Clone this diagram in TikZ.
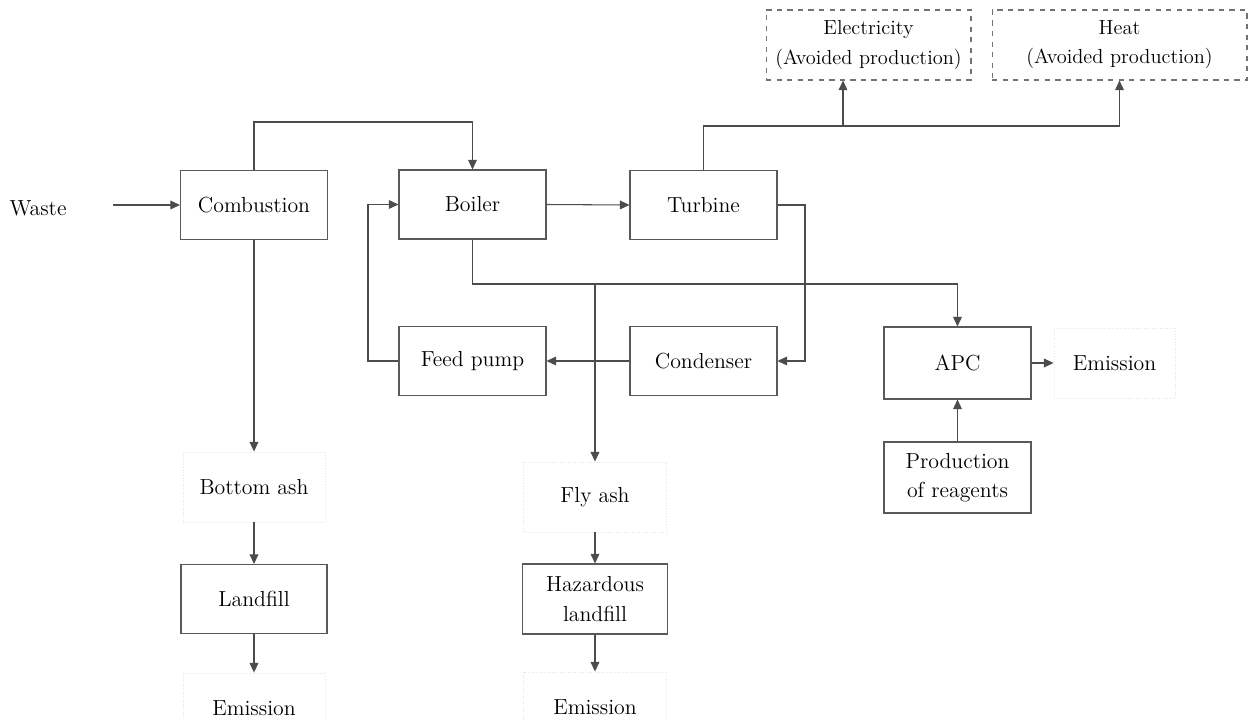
\documentclass[tikz,border=0pt]{standalone}
\usetikzlibrary{arrows.meta}

\begin{document}
\begin{tikzpicture}[x=0.02cm,y=-0.02cm,
  font=\fontsize{12.4}{16.6}\selectfont,
  box/.style={draw=black!65,line width=0.6pt,minimum width=2.94cm,minimum height=1.38cm,align=center,inner sep=1pt},
  faint/.style={draw=black!10,densely dotted,line width=0.5pt,minimum width=2.84cm,minimum height=1.4cm,align=center,inner sep=1pt},
  avoided/.style={draw=black!55,dashed,line width=0.6pt,minimum height=1.4cm,align=center,inner sep=1pt,font=\fontsize{11.6}{16.6}\selectfont},
  line/.style={draw=black!70,line width=0.6pt},
  flow/.style={line,-{Triangle[length=5.5pt,width=5pt]}}]
\useasboundingbox (0,0) rectangle (1255,720);
\node[inner sep=1pt] (waste) at (38,208) {Waste};
\coordinate (wasteout) at (113,205);
\node[box] (comb) at (254,205) {Combustion};
\node[box] (boil) at (472.5,204.5) {Boiler};
\node[box] (turb) at (703.5,205) {Turbine};
\node[box] (pump) at (472.5,361) {Feed pump};
\node[box] (cond) at (703.5,361) {Condenser};
\node[box,minimum height=1.44cm] (apc) at (957.5,363) {APC};
\node[faint,minimum width=2.42cm] (emisR) at (1114.5,363) {Emission};
\node[box,minimum height=1.42cm] (reag) at (957.5,477.5) {Production\\of reagents};
\node[avoided,minimum width=4.1cm] (elec) at (868.5,45) {Electricity\\(Avoided production)};
\node[avoided,minimum width=5.1cm] (heat) at (1119.5,45) {Heat\\(Avoided production)};
\node[faint] (bash) at (254,487) {Bottom ash};
\node[box,minimum width=2.92cm] (land) at (254,599) {Landfill};
\node[faint] (emisL) at (254,708) {Emission};
\node[faint,minimum width=2.86cm] (fly) at (595,497) {Fly ash};
\node[box,minimum width=2.9cm,minimum height=1.4cm] (haz) at (595,599) {Hazardous\\landfill};
\node[faint,minimum width=2.86cm] (emisM) at (595,707) {Emission};
\coordinate (combup) at (254,122);
\coordinate (steamup) at (703.5,126);
\coordinate (eltap) at (843,126);
\coordinate (condloop) at (805,361);
\coordinate (pumploop) at (368,280);
\coordinate (fluegas) at (595,284);
\draw[flow] (wasteout) -- (comb.west);
\draw[flow] (comb.north) -- (combup) -| (boil.north);
\draw[flow] (boil.east) -- (turb.west);
\draw[line] (turb.north) -- (steamup) -- (eltap);
\draw[flow] (eltap) -- (eltap |- elec.south);
\draw[flow] (eltap) -| (heat.south);
\draw[flow] (turb.east) -| (condloop) -- (cond.east);
\draw[flow] (cond.west) -- (pump.east);
\draw[flow] (pump.west) -| (pumploop) |- (boil.west);
\draw[flow] (boil.south) |- (fluegas) -| (apc.north);
\draw[flow] (fluegas) -- (fly.north);
\draw[flow] (apc.east) -- (emisR.west);
\draw[flow] (reag.north) -- (apc.south);
\draw[flow] (comb.south) -- (bash.north);
\draw[flow] (bash.south) -- (land.north);
\draw[flow] (land.south) -- (emisL.north);
\draw[flow] (fly.south) -- (haz.north);
\draw[flow] (haz.south) -- (emisM.north);
\end{tikzpicture}
\end{document}
